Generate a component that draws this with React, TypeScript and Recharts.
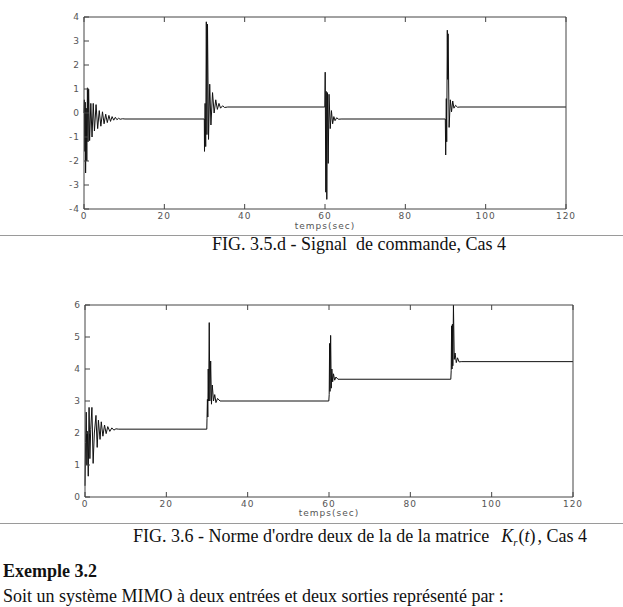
import { LineChart, Line, XAxis, YAxis } from "recharts";

// axes
const xTicks = [0, 20, 40, 60, 80, 100, 120];
const commandeTicks = [-4, -3, -2, -1, 0, 1, 2, 3, 4];
const normeTicks = [0, 1, 2, 3, 4, 5, 6];

// FIG 3.5.d - signal de commande : [temps, valeur]
const commandePoints: [number, number][] = [
  [0, 0], [0.1, 0.55], [0.2, -1.6], [0.3, 0.45], [0.4, -2.5], [0.55, 0.2], [0.7, -2.0],
  [0.85, 1.05], [1.0, -1.2], [1.15, 1.0], [1.4, -1.15], [1.7, 0.4], [2.0, -1.0],
  [2.3, 0.4], [2.6, -0.75], [3.0, 0.35], [3.4, -0.65], [3.8, 0.1], [4.2, -0.55],
  [4.6, 0.05], [5.0, -0.45], [5.4, -0.05], [5.8, -0.4], [6.2, -0.1], [6.6, -0.35],
  [7.0, -0.15], [7.4, -0.3], [7.8, -0.18], [8.2, -0.28], [8.6, -0.22], [9.0, -0.26],
  [9.6, -0.24], [10.2, -0.25],
  [29.95, -0.25], [30.0, -1.6], [30.15, 0.4], [30.3, -1.4], [30.45, 3.8], [30.6, -0.9],
  [30.75, 3.7], [31.0, -1.1], [31.3, 1.2], [31.6, -0.5], [32.0, 0.85], [32.4, 0.0],
  [32.8, 0.55], [33.2, 0.15], [33.6, 0.4], [34.0, 0.2], [34.5, 0.3], [35.0, 0.23],
  [35.8, 0.25],
  [59.95, 0.25], [60.05, 1.7], [60.2, -3.3], [60.3, 0.9], [60.45, -3.6], [60.6, 0.85],
  [60.8, -2.1], [61.0, 0.78], [61.3, -0.65], [61.6, 0.1], [61.9, -0.45], [62.2, -0.15],
  [62.5, -0.32], [62.9, -0.2], [63.4, -0.26], [64.0, -0.25],
  [89.95, -0.25], [90.05, -1.75], [90.2, 0.6], [90.3, -1.2], [90.45, 3.45], [90.55, 1.4],
  [90.65, 3.3], [90.9, -0.6], [91.2, 0.55], [91.5, 0.05], [91.8, 0.5], [92.1, 0.2],
  [92.5, 0.32], [93.0, 0.24], [93.6, 0.25], [120, 0.25],
];

// FIG 3.6 - norme d'ordre deux de Kr(t) : [temps, valeur]
const normePoints: [number, number][] = [
  [0, 0.35], [0.15, 1.7], [0.3, 2.65], [0.45, 1.0], [0.6, 2.05], [0.8, 0.65], [1.0, 2.8],
  [1.2, 1.2], [1.4, 2.1], [1.7, 2.8], [2.0, 1.05], [2.3, 2.0], [2.7, 2.55], [3.0, 1.55],
  [3.3, 2.4], [3.7, 1.8], [4.0, 2.35], [4.4, 1.9], [4.8, 2.25], [5.2, 1.98], [5.6, 2.2],
  [6.1, 2.05], [6.6, 2.16], [7.1, 2.09], [7.6, 2.13], [8.3, 2.12],
  [29.95, 2.12], [30.0, 2.45], [30.1, 3.05], [30.2, 2.5], [30.3, 4.0], [30.4, 3.0],
  [30.55, 5.45], [30.7, 3.0], [30.9, 4.25], [31.1, 2.9], [31.3, 3.5], [31.6, 3.0],
  [31.9, 3.2], [32.2, 2.95], [32.6, 3.08], [33.2, 3.0],
  [59.95, 3.0], [60.05, 3.2], [60.15, 4.8], [60.25, 3.3], [60.4, 5.05], [60.55, 3.4],
  [60.7, 4.0], [60.9, 3.6], [61.1, 3.85], [61.4, 3.65], [61.7, 3.75], [62.2, 3.68],
  [89.95, 3.68], [90.05, 3.95], [90.15, 5.35], [90.25, 4.0], [90.35, 5.4], [90.45, 4.1],
  [90.6, 6.0], [90.8, 4.3], [91.0, 4.5], [91.3, 4.2], [91.6, 4.35], [92.0, 4.22],
  [92.5, 4.23], [120, 4.23],
];

const toRows = (pts: [number, number][]) => pts.map(([t, v]) => ({ t, v }));

const axisColor = "#444";
const tickStyle = { fill: "#555", fontSize: 9, fontFamily: "DejaVu Sans", letterSpacing: 1 };

interface PlotProps {
  top: number;
  data: { t: number; v: number }[];
  yDomain: [number, number];
  yTicks: number[];
  left: number;
  right: number;
  labelOffset: number;
}

function Plot({ top, data, yDomain, yTicks, left, right, labelOffset }: PlotProps) {
  return (
    <div style={{ position: "absolute", left: 0, top }}>
      <LineChart
        width={623}
        height={240}
        data={data}
        margin={{ top: 16, left: left - 40, right: 623 - right - 1, bottom: 1 }}
      >
        <XAxis
          dataKey="t"
          type="number"
          domain={[0, 120]}
          ticks={xTicks}
          height={30}
          tickSize={-5}
          tickMargin={9}
          stroke={axisColor}
          tick={tickStyle}
          label={{
            value: "temps(sec)",
            position: "insideBottom",
            offset: labelOffset,
            fill: "#555",
            fontSize: 9,
            fontFamily: "DejaVu Sans",
            letterSpacing: 1,
          }}
        />
        <XAxis
          xAxisId="top"
          orientation="top"
          dataKey="t"
          type="number"
          domain={[0, 120]}
          ticks={xTicks}
          height={1}
          tickSize={-5}
          stroke={axisColor}
          tickFormatter={() => ""}
        />
        <YAxis
          type="number"
          domain={yDomain}
          ticks={yTicks}
          width={40}
          tickSize={-5}
          tickMargin={9}
          stroke={axisColor}
          tick={tickStyle}
        />
        <YAxis
          yAxisId="right"
          orientation="right"
          type="number"
          domain={yDomain}
          ticks={yTicks}
          width={1}
          tickSize={-5}
          stroke={axisColor}
          tickFormatter={() => ""}
        />
        <Line
          type="linear"
          dataKey="v"
          stroke="#111"
          strokeWidth={1}
          dot={false}
          isAnimationActive={false}
        />
      </LineChart>
    </div>
  );
}

const serif = "Liberation Serif, Times New Roman, serif";

export default function App() {
  return (
    <div
      style={{
        position: "absolute",
        left: 0,
        top: 0,
        width: 623,
        height: 607,
        background: "#fff",
        overflow: "hidden",
      }}
    >
      <svg width={623} height={607} style={{ position: "absolute", left: 0, top: 0 }}>
        <line x1={0} x2={623} y1={235.5} y2={235.5} stroke="#9a9a9a" strokeWidth={1} />
        <line x1={0} x2={623} y1={523.5} y2={523.5} stroke="#9a9a9a" strokeWidth={1} />
        <text
          x={212}
          y={250}
          fontFamily={serif}
          fontSize={18}
          fill="#111"
          style={{ whiteSpace: "pre" }}
        >
          {"FIG. 3.5.d - Signal  de commande, Cas 4"}
        </text>
        <text x={133} y={542} fontFamily={serif} fontSize={18} fill="#111">
          FIG. 3.6 - Norme d'ordre deux de la de la matrice
          <tspan dx={12} fontStyle="italic">K</tspan>
          <tspan dy={4} fontSize={11} fontStyle="italic">r</tspan>
          <tspan dy={-4} dx={1}>(</tspan>
          <tspan fontStyle="italic">t</tspan>
          <tspan>)</tspan>
          <tspan dx={2}>, Cas 4</tspan>
        </text>
        <text x={3} y={577} fontFamily={serif} fontSize={18} fontWeight="bold" fill="#111">
          Exemple 3.2
        </text>
        <text x={3} y={602} fontFamily={serif} fontSize={18} fill="#111">
          Soit un système MIMO à deux entrées et deux sorties représenté par :
        </text>
      </svg>
      <Plot
        top={0}
        data={toRows(commandePoints)}
        yDomain={[-4, 4]}
        yTicks={commandeTicks}
        left={84}
        right={566}
        labelOffset={10}
      />
      <Plot
        top={288}
        data={toRows(normePoints)}
        yDomain={[0, 6]}
        yTicks={normeTicks}
        left={85}
        right={573}
        labelOffset={11}
      />
    </div>
  );
}
